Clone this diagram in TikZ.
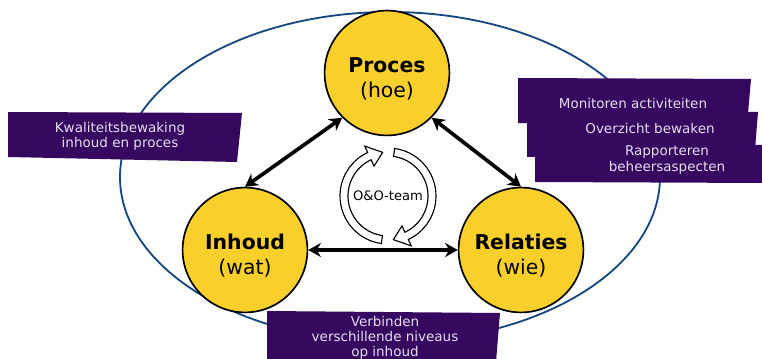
\documentclass[tikz,border=0pt]{standalone}
\usepackage{fontspec}
\setmainfont{DejaVu Sans}
\usetikzlibrary{arrows.meta}

\definecolor{paars}{HTML}{35075F}
\definecolor{geel}{HTML}{F9D02B}
\definecolor{lijn}{HTML}{17477F}
\definecolor{licht}{HTML}{E6DEF2}

\tikzset{
  kern/.style={circle,draw=black,line width=1.2pt,fill=geel,minimum size=3.12cm,inner sep=0pt},
  kerntekst/.style={align=center,font=\fontsize{14.5}{17.7}\selectfont},
  vlak/.style={fill=paars},
  vlaktekst/.style={text=licht,align=center,font=\fontsize{9.6}{10.8}\selectfont},
  pijl/.style={line width=2.6pt,{Stealth[length=9pt,width=10pt]}-{Stealth[length=9pt,width=10pt]}},
  draai/.style={draw=black,fill=white,line width=0.8pt}
}

\begin{document}
\begin{tikzpicture}[x=0.025cm,y=-0.025cm]
\clip (0,0) rectangle (762,359);
\draw[lijn,line width=1.3pt] (390,177) ellipse [x radius=270,y radius=165];

\fill[vlak] (8,112) -- (242,113) -- (237,162) -- (8,157) -- cycle;
\fill[vlak] (518,78) -- (751,79) -- (747,125) -- (518,123) -- cycle;
\fill[vlak] (527,112) -- (758,112) -- (755,150) -- (527,157) -- cycle;
\fill[vlak] (535,145) -- (764,145) -- (764,183) -- (535,182) -- cycle;
\fill[vlak] (267,311) -- (500,313) -- (496,362) -- (267,362) -- cycle;

\node[vlaktekst] (kwaliteit) at (120,136) {Kwaliteitsbewaking\\inhoud en proces};
\node[vlaktekst] (monitoren) at (633,103) {Monitoren activiteiten};
\node[vlaktekst] (overzicht) at (650,128) {Overzicht bewaken};
\node[vlaktekst] (rapport) at (667,160) {Rapporteren\\beheersaspecten};
\node[vlaktekst] (verbinden) at (385,338) {Verbinden\\verschillende niveaus\\op inhoud};

\node[kern] (proces) at (387,73) {};
\node[kern] (inhoud) at (245,250) {};
\node[kern] (relaties) at (521,250) {};
\node[kerntekst] (procestekst) at (387,79) {\textbf{Proces}\\(hoe)};
\node[kerntekst] (inhoudtekst) at (245,256) {\textbf{Inhoud}\\(wat)};
\node[kerntekst] (relatiestekst) at (521,256) {\textbf{Relaties}\\(wie)};

\draw[pijl] (proces.-135) -- (inhoud.north);
\draw[pijl] (proces.-45) -- (relaties.north);
\draw[pijl] (inhoud.east) -- (relaties.west);

\begin{scope}[shift={(388,196)}]
\draw[draai] (98:48) arc[start angle=98,end angle=245,radius=48] -- (245:55) -- (263:44) -- (245:33) -- (245:40) arc[start angle=245,end angle=98,radius=40] -- cycle;
\draw[draai] (-82:48) arc[start angle=-82,end angle=65,radius=48] -- (65:55) -- (83:44) -- (65:33) -- (65:40) arc[start angle=65,end angle=-82,radius=40] -- cycle;
\node[font=\fontsize{9.3}{11}\selectfont] (team) at (0,0) {O\&O-team};
\end{scope}
\end{tikzpicture}
\end{document}
